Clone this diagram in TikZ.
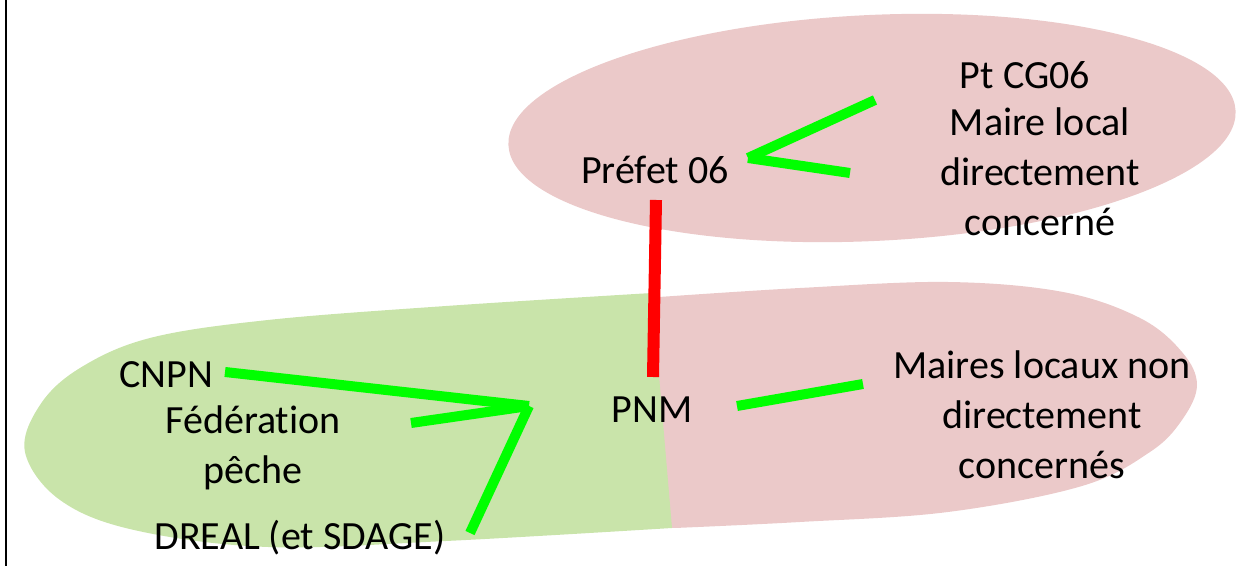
\documentclass[tikz,border=0pt]{standalone}
\usepackage{fontspec}
\setmainfont{Carlito}[RawFeature={-liga}]
\definecolor{pinkc}{RGB}{235,201,201}
\definecolor{greenc}{RGB}{201,228,170}
\definecolor{limec}{RGB}{0,255,0}
\definecolor{redc}{RGB}{255,0,0}
\begin{document}
\begin{tikzpicture}[x=0.5pt,y=-0.5pt,
  txt/.style={font=\fontsize{20}{25}\selectfont, align=center, inner sep=0pt, text=black},
  link/.style={line width=5pt, draw=limec},
  redlink/.style={line width=6pt, draw=redc}]
\useasboundingbox (0,0) rectangle (1244,566);
% border
\draw[line width=1.25pt] (6,0) -- (6,566);
% upper ellipse
\fill[pinkc, rotate around={2.7:(872,128)}] (872,128) ellipse [x radius=364, y radius=113];
% lower pink half
\fill[pinkc] plot[smooth, tension=0.6] coordinates {(659,297) (800,288) (948,282) (1063,292) (1140,318) (1182,352) (1197,385) (1182,420) (1150,452) (1082,486) (948,512) (800,522) (675,528)} -- (662,528) -- (646,297) -- cycle;
% lower green half
\fill[greenc] plot[smooth, tension=0.6] coordinates {(672,528) (446,541) (268,547) (134,530) (60,500) (25,452) (40,405) (80,368) (150,338) (268,320) (446,306) (652,293)} -- cycle;
% texts
\node[txt] (prefet) at (655,170) {Préfet 06};
\node[txt] (ptcg) at (1025,75) {Pt CG06};
\node[txt] (maire) at (1040,172) {Maire local\\directement\\concerné};
\node[txt] (pnm) at (652,410) {PNM};
\node[txt] (maires) at (1042,415) {Maires locaux non\\directement\\concernés};
\node[txt] (cnpn) at (166,375) {CNPN};
\node[txt] (fed) at (253,448) {Fédération\\pêche};
\node[txt] (dreal) at (300,538) {DREAL (et SDAGE)};
% connector end points
\coordinate (v1) at (748,158);
\coordinate (a1) at (875,100);
\coordinate (a2) at (850,173);
\coordinate (r1) at (656,200);
\coordinate (r2) at (653,377);
\coordinate (j) at (529,406);
\coordinate (c1) at (225,372);
\coordinate (f1) at (411,423);
\coordinate (d1) at (470,533);
\coordinate (p1) at (737,406);
\coordinate (m1) at (863,384);
% connectors
\draw[link] (a1) -- (v1);
\draw[link] (v1) -- (a2);
\draw[redlink] (r1) -- (r2);
\draw[link] (c1) -- (j);
\draw[link] (f1) -- (j);
\draw[link] (j) -- (d1);
\draw[link] (p1) -- (m1);
\end{tikzpicture}
\end{document}
